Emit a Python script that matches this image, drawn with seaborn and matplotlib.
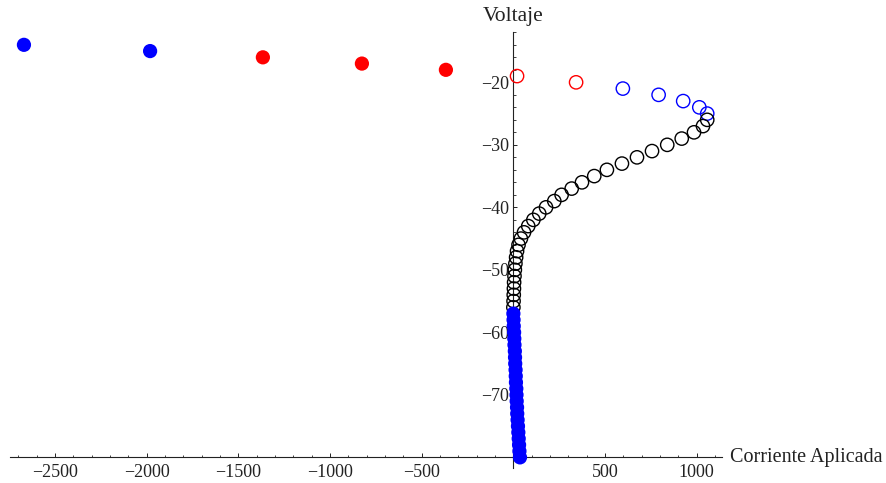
import numpy as np
import pandas as pd
import matplotlib
matplotlib.use("Agg")
import matplotlib.pyplot as plt
from matplotlib.ticker import MultipleLocator, FixedLocator
import seaborn as sns

# ---- data ----
filled_blue_top_x = [-2669, -1981]
filled_blue_top_y = [-14, -15]

filled_red_x = [-1366, -826, -368]
filled_red_y = [-16, -17, -18]

open_red_x = [20, 342]
open_red_y = [-19, -20]

open_blue_x = [597, 792, 926, 1014, 1057]
open_blue_y = [-21, -22, -23, -24, -25]

open_black_x = [1057, 1034, 985, 918, 839, 756, 674, 592, 510, 441, 374, 318,
                263, 223, 178, 141, 109, 81, 58, 41, 28, 20, 15, 11, 8, 6, 4,
                3, 2, 1, 0]
open_black_y = [-26, -27, -28, -29, -30, -31, -32, -33, -34, -35, -36, -37,
                -38, -39, -40, -41, -42, -43, -44, -45, -46, -47, -48, -49,
                -50, -51, -52, -53, -54, -55, -56]

filled_blue_col_x = [0, 1, 2, 4, 5, 6, 8, 9, 10, 12, 13, 14, 16, 17, 18, 20,
                     21, 23, 25, 27, 29, 31, 33, 36]
filled_blue_col_y = [-57, -58, -59, -60, -61, -62, -63, -64, -65, -66, -67,
                     -68, -69, -70, -71, -72, -73, -74, -75, -76, -77, -78,
                     -79, -80]

x_major_ticks = [-2500, -2000, -1500, -1000, -500, 500, 1000]
x_major_labels = ["\u22122500", "\u22122000", "\u22121500", "\u22121000", "\u2212500", "500", "1000"]
y_major_ticks = [-70, -60, -50, -40, -30, -20]
y_major_labels = ["\u221270", "\u221260", "\u221250", "\u221240", "\u221230", "\u221220"]

x_label = "Corriente Aplicada"
y_label = "Voltaje"

# ---- plotting ----
sns.set_theme(style="white")
plt.rcParams["font.family"] = ["Liberation Serif", "DejaVu Serif"]

fig = plt.figure(figsize=(8.87, 4.83), dpi=100)
ax = fig.add_axes([10 / 887, 1 - 468 / 483, (721.7 - 10) / 887, (468 - 31.7) / 483])

BLUE = "#0000ff"
RED = "#ff0000"
S_FILLED = 105
S_OPEN = 92
LW_OPEN = 1.0

def pts(x, y):
    return pd.DataFrame({"x": x, "y": y})

sns.scatterplot(data=pts(filled_blue_top_x, filled_blue_top_y), x="x", y="y",
                ax=ax, color=BLUE, s=S_FILLED, edgecolor="none", zorder=3)
sns.scatterplot(data=pts(filled_red_x, filled_red_y), x="x", y="y",
                ax=ax, color=RED, s=S_FILLED, edgecolor="none", zorder=3)
sns.scatterplot(data=pts(open_red_x, open_red_y), x="x", y="y",
                ax=ax, facecolor="none", edgecolor=RED, s=S_OPEN, linewidth=LW_OPEN, zorder=3)
sns.scatterplot(data=pts(open_blue_x, open_blue_y), x="x", y="y",
                ax=ax, facecolor="none", edgecolor=BLUE, s=S_OPEN, linewidth=LW_OPEN, zorder=3)
sns.scatterplot(data=pts(open_black_x, open_black_y), x="x", y="y",
                ax=ax, facecolor="none", edgecolor="black", s=S_OPEN, linewidth=LW_OPEN, zorder=3)
sns.scatterplot(data=pts(filled_blue_col_x, filled_blue_col_y), x="x", y="y",
                ax=ax, color=BLUE, s=S_FILLED, edgecolor="none", zorder=4)

ax.set_xlim(-2745, 1136)
ax.set_ylim(-81.7, -11.9)

# Mathematica-style axes crossing
ax.spines["left"].set_position(("data", 0))
ax.spines["bottom"].set_position(("data", -80))
ax.spines["right"].set_visible(False)
ax.spines["top"].set_visible(False)
for sp in ("left", "bottom"):
    ax.spines[sp].set_color("#222222")
    ax.spines[sp].set_linewidth(0.8)
    ax.spines[sp].set_zorder(2)

ax.xaxis.set_major_locator(FixedLocator(x_major_ticks))
ax.set_xticklabels(x_major_labels)
ax.xaxis.set_minor_locator(MultipleLocator(100))
ax.yaxis.set_major_locator(FixedLocator(y_major_ticks))
ax.set_yticklabels(y_major_labels)
ax.yaxis.set_minor_locator(MultipleLocator(2))

ax.tick_params(axis="both", which="major", direction="in", length=3.2, width=0.7,
               color="#222222", labelsize=13, labelcolor="#222222", pad=3,
               left=True, bottom=True)
ax.tick_params(axis="both", which="minor", direction="in", length=1.8, width=0.6,
               color="#222222", left=True, bottom=True)
ax.tick_params(axis="x", which="major", pad=5)

ax.set_xlabel("")
ax.set_ylabel("")
ax.annotate(y_label, xy=(0, 1), xycoords=("data", "axes fraction"),
            xytext=(0, 4), textcoords="offset points", ha="center", va="bottom",
            fontsize=15.5, color="#222222")
ax.annotate(x_label, xy=(1, -80), xycoords=("axes fraction", "data"),
            xytext=(6, 0), textcoords="offset points", ha="left", va="center",
            fontsize=14.5, color="#222222")

fig.savefig("out.png", dpi=100)
